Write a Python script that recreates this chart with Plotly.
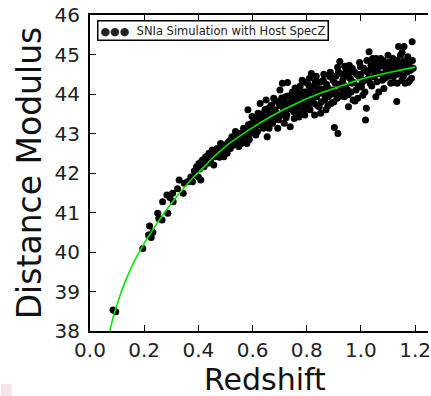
import plotly.graph_objects as go

# ---- data ----
sn_z = [
    0.085, 0.095, 0.195, 0.22, 0.216, 0.232, 0.226, 0.25, 0.254, 0.266, 0.268, 0.287, 0.284,
    0.305, 0.307, 0.295, 0.323, 0.329, 0.344, 0.348, 0.36, 0.372, 0.378, 0.393, 0.4, 0.402,
    0.409, 0.415, 0.421, 0.427, 0.433, 0.439, 0.445, 0.451, 0.457, 0.463, 0.47, 0.476, 0.482,
    0.488, 0.494, 0.5, 0.506, 0.512, 0.518, 0.524, 0.53, 0.537, 0.543, 0.549, 0.555, 0.561,
    0.567, 0.573, 0.579, 0.583, 0.585, 0.591, 0.598, 0.604, 0.61, 0.612, 0.62, 0.624, 0.628,
    0.634, 0.64, 0.646, 0.65, 0.654, 0.656, 0.661, 0.665, 0.671, 0.674, 0.678, 0.683, 0.689,
    0.693, 0.698, 0.701, 0.705, 0.71, 0.713, 0.717, 0.722, 0.726, 0.729, 0.734, 0.739, 0.744,
    0.749, 0.754, 0.759, 0.763, 0.768, 0.773, 0.778, 0.783, 0.787, 0.793, 0.798, 0.802, 0.807,
    0.812, 0.817, 0.822, 0.827, 0.829, 0.832, 0.837, 0.841, 0.846, 0.851, 0.856, 0.861, 0.866,
    0.871, 0.876, 0.88, 0.885, 0.89, 0.896, 0.902, 0.915, 0.905, 0.912, 0.917, 0.922, 0.927,
    0.933, 0.939, 0.945, 0.951, 0.954, 0.957, 0.961, 0.966, 0.971, 0.976, 0.982, 0.988, 0.993,
    0.998, 1.002, 1.007, 1.012, 1.017, 1.02, 1.024, 1.03, 1.034, 1.037, 1.043, 1.046, 1.051,
    1.055, 1.059, 1.063, 1.068, 1.073, 1.079, 1.085, 1.089, 1.095, 1.1, 1.105, 1.11, 1.116,
    1.12, 1.124, 1.132, 1.134, 1.139, 1.143, 1.146, 1.151, 1.156, 1.159, 1.163, 1.168, 1.173,
    1.18, 1.189, 1.193,
    0.385, 0.39, 0.405, 0.41, 0.418, 0.425, 0.43, 0.437, 0.442, 0.448, 0.453, 0.46, 0.466,
    0.472, 0.478, 0.484, 0.49, 0.496, 0.503, 0.509, 0.515, 0.52, 0.527, 0.533, 0.54, 0.546,
    0.552, 0.558, 0.564, 0.57, 0.576, 0.582, 0.588, 0.594, 0.6, 0.606, 0.612, 0.618, 0.623,
    0.63, 0.636, 0.642, 0.648, 0.653, 0.659, 0.664, 0.67, 0.675, 0.681, 0.687, 0.692, 0.696,
    0.702, 0.708, 0.714, 0.72, 0.724, 0.731, 0.737, 0.742, 0.747, 0.752, 0.757, 0.762, 0.767,
    0.771, 0.776, 0.781, 0.786, 0.79, 0.795, 0.8, 0.805, 0.81, 0.815, 0.82, 0.825, 0.83,
    0.835, 0.84, 0.844, 0.849, 0.853, 0.858, 0.863, 0.868, 0.873, 0.878, 0.883, 0.887, 0.892,
    0.897, 0.9, 0.907, 0.91, 0.914, 0.92, 0.925, 0.93, 0.935, 0.94, 0.943, 0.948, 0.953,
    0.958, 0.963, 0.968, 0.973, 0.978, 0.984, 0.99, 0.995, 1.0, 1.005, 1.01, 1.015, 1.022,
    1.027, 1.032, 1.04, 1.045, 1.05, 1.056, 1.062, 1.066, 1.071, 1.077, 1.082, 1.088, 1.093,
    1.098, 1.103, 1.108, 1.114, 1.118, 1.122, 1.128, 1.133, 1.137, 1.142, 1.148, 1.152, 1.157,
    1.162, 1.166, 1.17, 1.175, 1.178, 1.183, 1.187, 1.19,
]
sn_mu = [
    38.53, 38.49, 40.09, 40.66, 40.43, 40.5, 40.37, 40.98, 40.85, 40.81, 41.27, 40.98, 41.44,
    41.49, 41.27, 41.38, 41.6, 41.82, 41.49, 41.74, 41.78, 41.9, 41.78, 42.16, 41.9, 42.24,
    41.82, 42.33, 42.16, 42.41, 42.24, 42.5, 42.33, 42.58, 42.2, 42.41, 42.62, 42.5, 42.75,
    42.54, 42.41, 42.67, 42.5, 42.79, 42.62, 42.92, 42.75, 43.05, 42.83, 42.67, 43.0, 42.83,
    43.13, 42.92, 42.75, 43.6, 43.22, 43.0, 43.43, 43.09, 43.3, 42.96, 43.51, 43.22, 43.76,
    43.38, 43.13, 43.6, 43.85, 42.92, 43.34, 43.13, 43.68, 43.47, 43.26, 43.89, 43.6, 43.38,
    43.13, 43.76, 44.1, 43.47, 44.27, 43.64, 43.26, 43.93, 43.47, 44.29, 43.72, 43.17, 43.93,
    43.6, 43.38, 43.85, 44.1, 43.68, 43.51, 43.97, 44.35, 43.76, 43.47, 44.06, 43.85, 44.23,
    43.6, 44.52, 44.02, 43.76, 43.47, 44.31, 43.93, 44.14, 43.68, 43.51, 44.02, 44.35, 43.85,
    43.6, 44.18, 43.93, 44.44, 43.76, 44.1, 43.15, 43.0, 44.27, 43.89, 44.56, 44.82, 44.18,
    44.35, 43.93, 44.61, 44.1, 43.68, 44.73, 44.39, 44.27, 43.85, 44.56, 44.1, 43.89, 44.44,
    44.69, 44.18, 43.97, 44.35, 43.34, 43.64, 44.56, 45.07, 44.27, 44.73, 44.9, 44.44, 44.61,
    43.93, 44.31, 44.77, 44.52, 44.9, 44.35, 44.14, 44.69, 44.44, 44.98, 44.61, 44.27, 44.86,
    44.44, 44.73, 43.81, 44.27, 45.2, 44.56, 44.98, 44.35, 44.82, 45.2, 44.27, 44.69, 44.94,
    44.35, 45.32, 44.65,
    42.05, 41.95, 42.1, 42.28, 42.2, 42.3, 42.38, 42.28, 42.45, 42.4, 42.5, 42.55, 42.45,
    42.58, 42.4, 42.6, 42.65, 42.52, 42.72, 42.6, 42.68, 42.85, 42.7, 42.9, 42.78, 42.95,
    42.88, 42.75, 43.0, 43.08, 42.95, 43.15, 42.85, 43.25, 43.18, 43.35, 43.2, 43.05, 43.4,
    43.28, 43.5, 43.25, 43.42, 43.62, 43.3, 43.5, 43.72, 43.42, 43.55, 43.82, 43.5, 43.35,
    43.7, 43.9, 43.55, 43.78, 43.4, 43.95, 43.62, 43.8, 44.05, 43.55, 44.15, 43.75, 43.95,
    43.42, 44.2, 43.85, 44.05, 43.6, 44.3, 43.95, 43.7, 44.4, 44.1, 43.85, 44.2, 43.95,
    44.45, 43.7, 44.05, 44.3, 43.8, 44.12, 44.5, 43.95, 44.25, 43.7, 44.05, 44.55, 44.0,
    44.35, 43.8, 44.45, 44.05, 44.68, 44.25, 43.95, 44.5, 44.05, 44.7, 44.2, 44.45, 43.98,
    44.55, 44.05, 44.65, 44.3, 43.82, 44.5, 44.2, 44.8, 44.5, 44.3, 44.65, 44.05, 44.85,
    44.4, 44.6, 44.2, 44.75, 44.45, 44.9, 44.55, 44.05, 44.7, 44.5, 44.85, 44.4, 44.6,
    44.8, 44.45, 44.7, 44.55, 44.9, 44.3, 44.65, 44.85, 44.5, 44.75, 44.62, 45.05, 44.45,
    44.7, 44.85, 44.55, 44.3, 44.75, 44.6, 44.4, 44.85,
]

model_z = [0.07, 0.08, 0.09, 0.1, 0.115, 0.13, 0.15, 0.17, 0.19, 0.21, 0.24, 0.27, 0.3,
           0.34, 0.38, 0.42, 0.46, 0.5, 0.55, 0.6, 0.65, 0.7, 0.75, 0.8, 0.85, 0.9, 0.95,
           1.0, 1.05, 1.1, 1.15, 1.2]
model_mu = [37.9, 38.2, 38.45, 38.67, 38.98, 39.25, 39.57, 39.85, 40.1, 40.33, 40.65, 40.95,
            41.23, 41.57, 41.88, 42.15, 42.43, 42.67, 42.92, 43.15, 43.36, 43.55, 43.72,
            43.88, 44.02, 44.14, 44.26, 44.37, 44.46, 44.54, 44.61, 44.68]

x_ticks = [0.0, 0.2, 0.4, 0.6, 0.8, 1.0, 1.2]
y_ticks = [38, 39, 40, 41, 42, 43, 44, 45, 46]

series_name = "SNIa Simulation with Host SpecZ"
x_title = "Redshift"
y_title = "Distance Modulus"

FONT = "DejaVu Sans"

fig = go.Figure()
fig.add_trace(go.Scatter(
    x=sn_z, y=sn_mu, mode="markers", name=series_name, showlegend=False,
    marker=dict(color="black", size=7, line=dict(width=0)),
))
fig.add_trace(go.Scatter(
    x=model_z, y=model_mu, mode="lines", showlegend=False,
    line=dict(color="#00e600", width=1.6, shape="spline", smoothing=0.8),
))

W, H = 431, 396
L, T, B = 90, 15, 65
plot_w = W - L
plot_h = H - T - B


def px_x(p):
    return (p - L) / plot_w


def px_y(p):
    return (H - B - p) / plot_h


fig.update_layout(
    width=W, height=H,
    margin=dict(l=L, r=0, t=T, b=B, pad=0),
    paper_bgcolor="white", plot_bgcolor="white",
    font=dict(family=FONT, color="black"),
    showlegend=False,
    xaxis=dict(
        range=[0, plot_w / ((418 - L) / 1.2)],
        tickvals=x_ticks, ticktext=[f"{v:.1f}" for v in x_ticks],
        ticks="inside", ticklen=6, tickwidth=1, tickcolor="black",
        showline=True, linecolor="black", linewidth=2, mirror="ticks",
        showgrid=False, zeroline=False,
        tickfont=dict(family=FONT, size=20, color="#222"),
        ticklabelstandoff=0, ticklabeloverflow="allow",
    ),
    yaxis=dict(
        range=[38, 46],
        tickvals=y_ticks, ticktext=[str(v) for v in y_ticks],
        ticks="inside", ticklen=6, tickwidth=1, tickcolor="black",
        showline=True, linecolor="black", linewidth=2, mirror=False,
        showgrid=False, zeroline=False,
        tickfont=dict(family=FONT, size=20, color="#222"),
        ticklabelstandoff=4,
        title=dict(text=y_title, font=dict(family=FONT, size=33, color="#111"), standoff=3),
    ),
    annotations=[
        dict(
            text=x_title, xref="paper", yref="paper",
            x=px_x(267), y=px_y(379), xanchor="center", yanchor="middle",
            showarrow=False, font=dict(family=FONT, size=30, color="#111"),
            borderpad=0,
        ),
        dict(
            text="<span style='font-size:11px'>●●●</span>  " + series_name,
            xref="paper", yref="paper",
            x=px_x(97), y=px_y(20), xanchor="left", yanchor="top",
            showarrow=False, align="left",
            font=dict(family=FONT, size=11.5, color="#222"),
            bordercolor="black", borderwidth=1.5, borderpad=2, bgcolor="white",
        ),
    ],
    shapes=[dict(
        type="rect", xref="paper", yref="paper",
        x0=px_x(0), x1=px_x(11), y0=px_y(384), y1=px_y(396),
        line=dict(width=0), fillcolor="#f2e4e8", layer="below",
    )],
)

fig.write_html("out.html")
